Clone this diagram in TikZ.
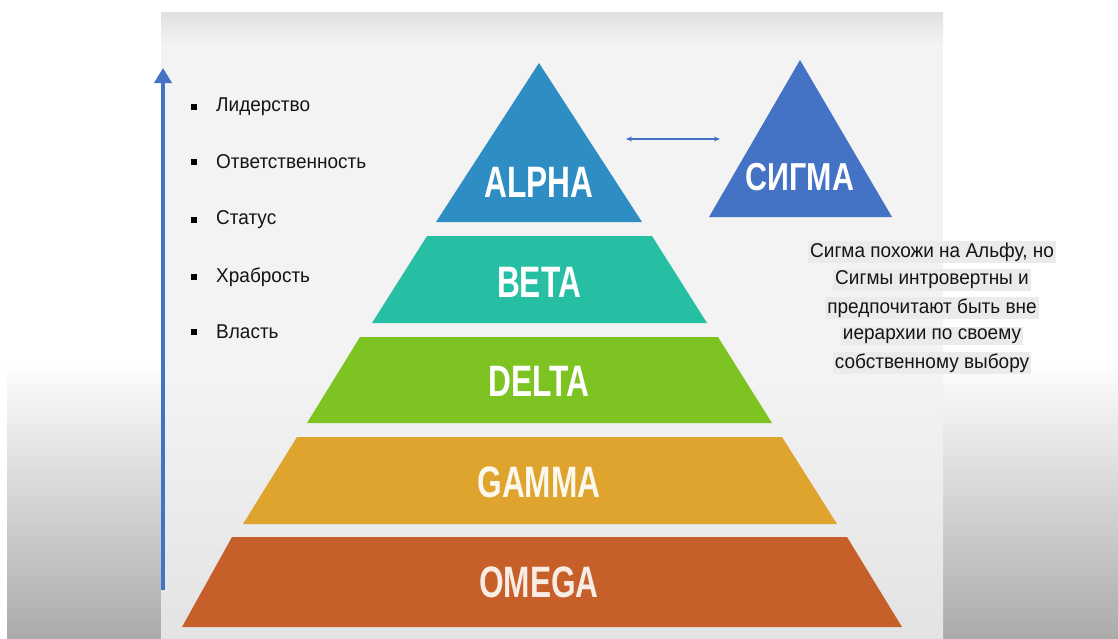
\documentclass[tikz,border=0pt]{standalone}
\usepackage{fontspec}
\setmainfont{Liberation Sans}
\newfontfamily\labfont{Liberation Sans}[FakeStretch=0.72]
\newfontfamily\sigfont{Liberation Sans}[FakeStretch=0.78]
\newfontfamily\txtfont{Liberation Sans}[FakeStretch=0.95]
\usetikzlibrary{arrows.meta}
\definecolor{cAlpha}{HTML}{2E8EC3}
\definecolor{cSigma}{HTML}{4472C4}
\definecolor{cBeta}{HTML}{27BFA4}
\definecolor{cDelta}{HTML}{7DC422}
\definecolor{cGamma}{HTML}{DEA42E}
\definecolor{cOmega}{HTML}{C65F29}
\definecolor{panel}{HTML}{F3F3F3}
\tikzset{
  layerlabel/.style={text=white, inner sep=0pt, font=\labfont\bfseries\fontsize{44}{44}\selectfont},
  bulletsq/.style={fill=black, minimum size=6pt, inner sep=0pt},
  itemtext/.style={anchor=west, inner sep=0pt, font=\txtfont\fontsize{20}{20}\selectfont, text=black!92},
  noteline/.style={fill=black!8, inner sep=2pt, font=\txtfont\fontsize{20}{20}\selectfont, text=black!92},
}
\begin{document}
\begin{tikzpicture}[x=1pt, y=-1pt]
\useasboundingbox (0,0) rectangle (1118,638);
% outer background
\fill[white] (0,0) rectangle (1118,638);
\shade[top color=white, bottom color=black!33] (7,360) rectangle (1118,638);
% panel
\fill[panel] (161,12) rectangle (943,638);
\shade[top color=black!12, bottom color=panel] (161,12) rectangle (943,45);
\shade[top color=panel, bottom color=black!11] (161,380) rectangle (943,638);
% vertical arrow
\coordinate (vbot) at (163,590);
\coordinate (vtop) at (163,68);
\draw[cSigma, line width=4pt, -{Triangle[length=15pt, width=17pt]}] (vbot) -- (vtop);
% pyramid layers
\fill[cAlpha] (539,63) -- (642,222) -- (436,222) -- cycle;
\fill[cBeta] (427,236) -- (652,236) -- (707,323) -- (372,323) -- cycle;
\fill[cDelta] (360,337) -- (718,337) -- (772,423) -- (307,423) -- cycle;
\fill[cGamma] (297,437) -- (782,437) -- (837,524) -- (243,524) -- cycle;
\fill[cOmega] (232,537) -- (847,537) -- (902,627) -- (182,627) -- cycle;
\node[layerlabel] (alpha) at (539,182) {ALPHA};
\node[layerlabel] (beta) at (539,282) {BETA};
\node[layerlabel] (delta) at (539,381) {DELTA};
\node[layerlabel, text=white!92!cGamma] (gamma) at (539,482) {GAMMA};
\node[layerlabel, text=white!88!cOmega] (omega) at (539,582) {OMEGA};
% sigma
\fill[cSigma] (800,60) -- (892,217) -- (709,217) -- cycle;
\node[text=white, inner sep=0pt, font=\sigfont\bfseries\fontsize{39}{39}\selectfont] (sigma) at (800,177) {СИГМА};
% double arrow
\coordinate (aL) at (626,139);
\coordinate (aR) at (720,139);
\draw[cSigma, line width=1.3pt, {Stealth[length=6pt,width=5pt]}-{Stealth[length=6pt,width=5pt]}] (aL) -- (aR);
% bullet list
\node[bulletsq] (b1) at (194,107) {};
\node[bulletsq] (b2) at (194,162) {};
\node[bulletsq] (b3) at (194,220) {};
\node[bulletsq] (b4) at (194,277) {};
\node[bulletsq] (b5) at (194,332) {};
\node[itemtext] (t1) at (216,107) {Лидерство};
\node[itemtext] (t2) at (216,162) {Ответственность};
\node[itemtext] (t3) at (216,220) {Статус};
\node[itemtext] (t4) at (216,277) {Храбрость};
\node[itemtext] (t5) at (216,332) {Власть};
% sigma note
\node[noteline] (n1) at (932,252) {Сигма похожи на Альфу, но};
\node[noteline] (n2) at (932,280) {Сигмы интровертны и};
\node[noteline] (n3) at (932,308) {предпочитают быть вне};
\node[noteline] (n4) at (932,336) {иерархии по своему};
\node[noteline] (n5) at (932,363) {собственному выбору};
\end{tikzpicture}
\end{document}
